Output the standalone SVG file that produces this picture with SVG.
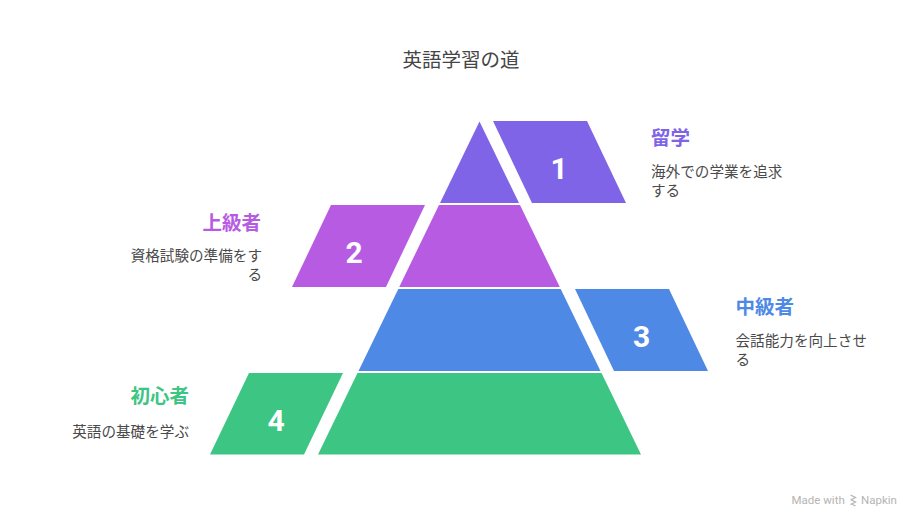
<svg xmlns="http://www.w3.org/2000/svg" width="924" height="528" viewBox="0 0 924 528">
<style>
.t{font-family:"Noto Sans CJK JP","Noto Sans",sans-serif}
.title{font-size:19.5px;fill:#454545}
.h{font-size:19.5px;font-weight:700}
.d{font-size:14.6px;fill:#4a4a4a}
.n{font-family:Roboto,"Liberation Sans",sans-serif;font-weight:700;font-size:30px;fill:#fff;text-anchor:middle}
.c1{fill:#7F64E8}.c2{fill:#B75CE2}.c3{fill:#4E89E5}.c4{fill:#3DC583}
.wm{font-family:Roboto,"Liberation Sans",sans-serif;font-size:11.5px;fill:#b4b4b4}
</style>
<rect width="924" height="528" fill="#fff"/>
<text class="t title" x="461" y="67" text-anchor="middle">英語学習の道</text>
<g id="connectors"></g>
<g id="level1">
<polygon class="c1" points="479.5,121.5 519,203 440,203"/>
<polygon class="c1" points="493,121 587,121 626,203 532,203"/>
<text class="n" x="559" y="179">1</text>
<text class="t h" x="651" y="145" fill="#7F64E8">留学</text>
<text class="t d" x="651" y="177">海外での学業を追求<tspan x="651" dy="18.5">する</tspan></text>
</g>
<g id="level2">
<polygon class="c2" points="439,205 520,205 559.8,287 399.2,287"/>
<polygon class="c2" points="331,205 425,205 386,287 292,287"/>
<text class="n" x="354" y="263">2</text>
<text class="t h" x="261" y="230" text-anchor="end" fill="#B75CE2">上級者</text>
<text class="t d" x="262" y="261" text-anchor="end">資格試験の準備をす<tspan x="262" dy="18.5">る</tspan></text>
</g>
<g id="level3">
<polygon class="c3" points="398.3,289 560.7,289 600.5,371 358.5,371"/>
<polygon class="c3" points="575,289 669,289 708,371 614,371"/>
<text class="n" x="641.5" y="347">3</text>
<text class="t h" x="735.5" y="314" fill="#4E89E5">中級者</text>
<text class="t d" x="735.5" y="346">会話能力を向上させ<tspan x="735.5" dy="18.5">る</tspan></text>
</g>
<g id="level4">
<polygon class="c4" points="357.5,373 601.5,373 641,454.5 318,454.5"/>
<polygon class="c4" points="249,373 343,373 304,454.5 210,454.5"/>
<text class="n" x="276" y="431">4</text>
<text class="t h" x="189" y="403" text-anchor="end" fill="#3DC583">初心者</text>
<text class="t d" x="189" y="437" text-anchor="end">英語の基礎を学ぶ</text>
</g>
<g id="watermark">
<text class="wm" x="791.5" y="504">Made with</text>
<path d="M850.5,495 l5,2.5 l-5,2.5 M850.5,499.5 l5,2.5 l-5,2.5 M851.5,504 l4,2" stroke="#b4b4b4" stroke-width="1.3" fill="none"/>
<text class="wm" x="861" y="504">Napkin</text>
</g>
</svg>
